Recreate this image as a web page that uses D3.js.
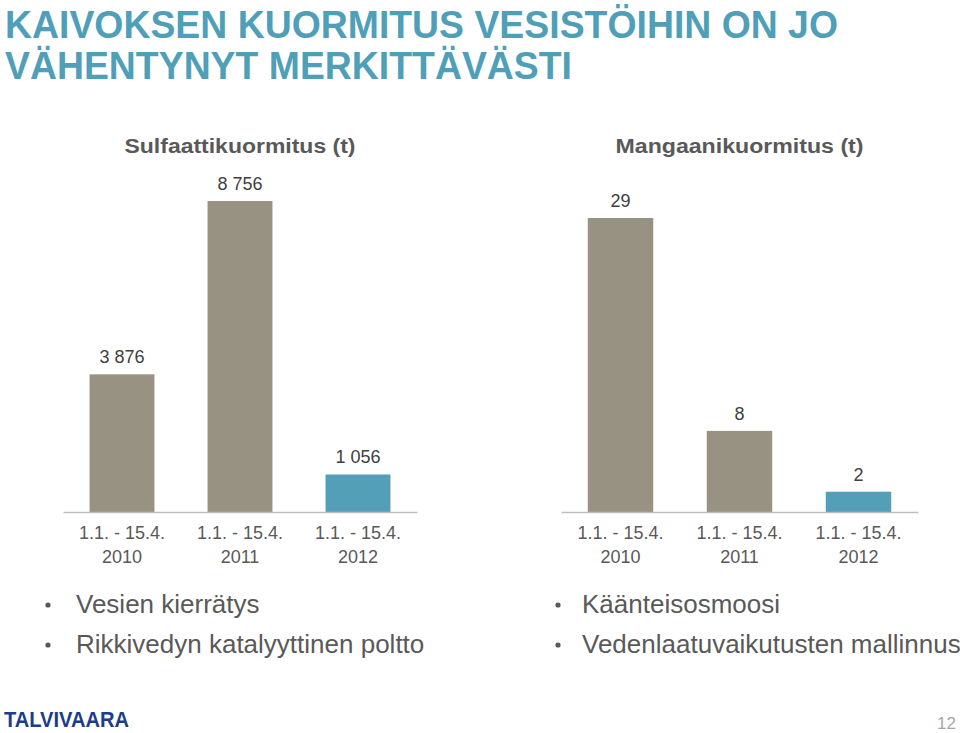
<!DOCTYPE html>
<html>
<head>
<meta charset="utf-8">
<script src="https://cdn.jsdelivr.net/npm/d3@7"></script>
<style>
  body { margin: 0; background: #fff; }
  svg { font-family: "Liberation Sans", Arial, sans-serif; display: block; }
</style>
</head>
<body>
<div id="slide"></div>
<script>
"use strict";

// data
var categories = ["1.1. - 15.4.|2010", "1.1. - 15.4.|2011", "1.1. - 15.4.|2012"];
var sulfaatti = [3876, 8756, 1056];
var sulfaattiLabels = ["3 876", "8 756", "1 056"];
var mangaani = [29, 8, 2];
var mangaaniLabels = ["29", "8", "2"];
var titleLines = ["KAIVOKSEN KUORMITUS VESISTÖIHIN ON JO", "VÄHENTYNYT MERKITTÄVÄSTI"];
var bulletsLeft = ["Vesien kierrätys", "Rikkivedyn katalyyttinen poltto"];
var bulletsRight = ["Käänteisosmoosi", "Vedenlaatuvaikutusten mallinnus"];

var width = 960, height = 733;
var svg = d3.select("#slide").append("svg")
        .attr("width", width)
        .attr("height", height);

// slide title
svg.selectAll(".maintitle")
        .data(titleLines)
        .enter()
        .append("text")
        .attr("class", "maintitle")
        .attr("x", 5)
        .attr("y", function (d, i) { return 38 + i * 41; })
        .attr("textLength", function (d, i) { return i == 0 ? 833 : 567; })
        .attr("lengthAdjust", "spacingAndGlyphs")
        .style("font-size", "38px")
        .style("font-weight", "bold")
        .style("fill", "#4f9fb8")
        .text(function (d) { return d; });

function drawChart(values, labels, title, x0, x1, maxH, titleW) {
        //one small bar chart with its own scales
        var baseline = 512;
        var x = d3.scaleBand()
                .range([x0, x1])
                .domain(categories)
                .paddingInner(0.45)
                .paddingOuter(0.225);
        var y = d3.scaleLinear()
                .domain([0, d3.max(values)])
                .range([baseline, baseline - maxH]);

        var g = svg.append("g");

        g.append("text")
                .attr("x", (x0 + x1) / 2)
                .attr("y", 153)
                .attr("text-anchor", "middle")
                .attr("textLength", titleW)
                .attr("lengthAdjust", "spacingAndGlyphs")
                .style("font-size", "20px")
                .style("font-weight", "bold")
                .style("fill", "#595959")
                .text(title);

        g.selectAll("rect")
                .data(values)
                .enter()
                .append("rect")
                .attr("x", function (d, i) { return x(categories[i]); })
                .attr("y", function (d) { return y(d); })
                .attr("width", x.bandwidth())
                .attr("height", function (d) { return baseline - y(d); })
                .attr("fill", function (d, i) { return i == 2 ? "#539fb7" : "#989282"; });

        g.selectAll(".val")
                .data(values)
                .enter()
                .append("text")
                .attr("class", "val")
                .attr("x", function (d, i) { return x(categories[i]) + x.bandwidth() / 2; })
                .attr("y", function (d) { return y(d) - 11; })
                .attr("text-anchor", "middle")
                .style("font-size", "18px")
                .style("fill", "#404040")
                .text(function (d, i) { return labels[i]; });

        // axis: only the baseline and the two line category labels
        var axis = g.append("g")
                .attr("transform", "translate(0," + baseline + ")")
                .call(d3.axisBottom(x).tickSize(0).tickFormat(""));
        axis.select(".domain").attr("stroke", "#bfbfbf").attr("stroke-width", 1.3);

        var ticks = axis.selectAll(".tick text")
                .style("font-size", "18px")
                .style("fill", "#595959")
                .attr("y", 0)
                .attr("dy", null);
        ticks.each(function (d) {
                var parts = d.split("|");
                var t = d3.select(this).text(null);
                parts.forEach(function (p, k) {
                        t.append("tspan")
                                .attr("x", 0)
                                .attr("y", 27 + k * 24)
                                .text(p);
                });
        });
}

drawChart(sulfaatti, sulfaattiLabels, "Sulfaattikuormitus (t)", 63, 417, 311, 231);
drawChart(mangaani, mangaaniLabels, "Mangaanikuormitus (t)", 561, 918, 294, 248);

function drawBullets(items, dotX, textX) {
        svg.selectAll(null)
                .data(items)
                .enter()
                .append("circle")
                .attr("cx", dotX)
                .attr("cy", function (d, i) { return 605 + i * 40; })
                .attr("r", 2.6)
                .attr("fill", "#595959");
        svg.selectAll(null)
                .data(items)
                .enter()
                .append("text")
                .attr("x", textX)
                .attr("y", function (d, i) { return 613 + i * 40; })
                .style("font-size", "26px")
                .style("fill", "#595959")
                .text(function (d) { return d; });
}
drawBullets(bulletsLeft, 48, 76);
drawBullets(bulletsRight, 558, 582);

// footer
svg.append("text")
        .attr("x", 4)
        .attr("y", 727)
        .attr("textLength", 125)
        .attr("lengthAdjust", "spacingAndGlyphs")
        .style("font-size", "22px")
        .style("font-weight", "900")
        .style("fill", "#1d3c8c")
        .text("TALVIVAARA");

svg.append("text")
        .attr("x", 956)
        .attr("y", 729)
        .attr("text-anchor", "end")
        .style("font-size", "17px")
        .style("fill", "#a6a6a6")
        .text("12");
</script>
</body>
</html>
